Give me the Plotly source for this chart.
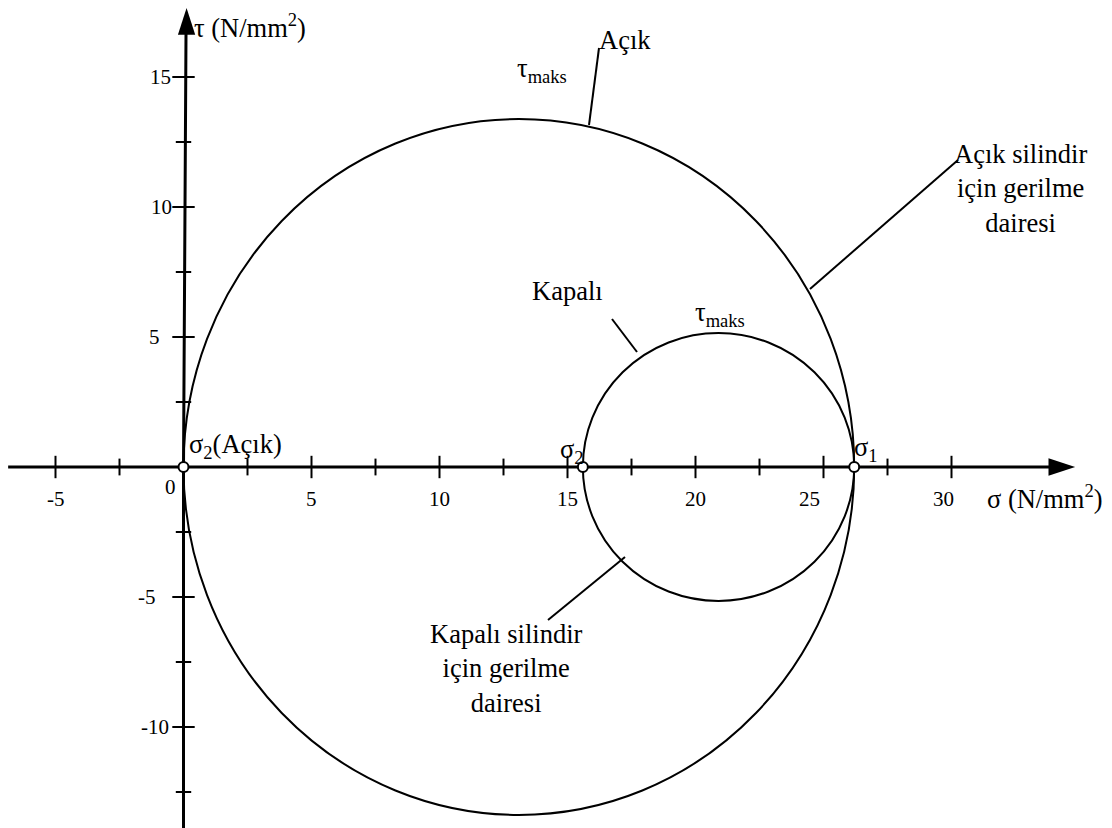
import plotly.graph_objects as go

# ---------------- data ----------------
sigma_open = [0.0, 26.2]        # σ2 (Açık), σ1  [N/mm²]
sigma_closed = [15.6, 26.2]     # σ2 (Kapalı), σ1 [N/mm²]
tau_maks_open = 13.38
tau_maks_closed = 5.15
x_major = [-5, 5, 10, 15, 20, 25, 30]
x_minor = [-2.5, 2.5, 7.5, 12.5, 17.5, 22.5, 27.5]
x_labels = ["-5", "5", "10", "15", "20", "25", "30"]
y_major = [15, 10, 5, -5, -10]
y_minor = [12.5, 7.5, 2.5, -2.5, -7.5, -12.5]
y_labels = ["15", "10", "5", "-5", "-10"]
x_axis_span = [-6.85, 34.83]
y_axis_span = [-14.2, 17.65]

# ---------------- style ----------------
FONT = "Liberation Serif"
W, H = 1112, 828
X0_PX, Y0_PX = 183.5, 467.0     # pixel position of origin
SX, SY = 25.6, 26.0             # px per unit
x_label_xshift = {"25": -14, "30": -8}
y_label_xshift = {"15": -11, "10": -10, "5": -22, "-5": -26, "-10": -13}

fig = go.Figure()

# axes lines
fig.add_trace(go.Scatter(x=[x_axis_span[0], x_axis_span[1] - 0.6], y=[0, 0], mode="lines",
                         line=dict(color="black", width=3), hoverinfo="skip"))
fig.add_trace(go.Scatter(x=[0, 0, 0.1], y=[y_axis_span[0], 0, y_axis_span[1] - 0.6], mode="lines",
                         line=dict(color="black", width=3), hoverinfo="skip"))
# arrow heads
fig.add_trace(go.Scatter(x=[x_axis_span[1]], y=[0], mode="markers",
                         marker=dict(symbol="arrow", angle=90, size=28, color="black",
                                     line=dict(width=0)), hoverinfo="skip"))
fig.add_trace(go.Scatter(x=[0.12], y=[y_axis_span[1]], mode="markers",
                         marker=dict(symbol="arrow", angle=0, size=28, color="black",
                                     line=dict(width=0)), hoverinfo="skip"))

# tick marks
fig.add_trace(go.Scatter(x=x_major, y=[0] * len(x_major), mode="markers",
                         marker=dict(symbol="line-ns", size=16, line=dict(width=2, color="black")),
                         hoverinfo="skip"))
fig.add_trace(go.Scatter(x=x_minor, y=[0] * len(x_minor), mode="markers",
                         marker=dict(symbol="line-ns", size=12, line=dict(width=2, color="black")),
                         hoverinfo="skip"))
fig.add_trace(go.Scatter(x=[0] * len(y_major), y=y_major, mode="markers",
                         marker=dict(symbol="line-ew", size=16, line=dict(width=2, color="black")),
                         hoverinfo="skip"))
fig.add_trace(go.Scatter(x=[0] * len(y_minor), y=y_minor, mode="markers",
                         marker=dict(symbol="line-ew", size=11, line=dict(width=2, color="black")),
                         hoverinfo="skip"))

# Mohr circles
fig.add_shape(type="circle", xref="x", yref="y", x0=sigma_open[0], x1=sigma_open[1],
              y0=-tau_maks_open, y1=tau_maks_open, line=dict(color="black", width=2), layer="below")
fig.add_shape(type="circle", xref="x", yref="y", x0=sigma_closed[0], x1=sigma_closed[1],
              y0=-tau_maks_closed, y1=tau_maks_closed, line=dict(color="black", width=2), layer="below")

# principal stress points
pts = sorted(set(sigma_open + sigma_closed))
fig.add_trace(go.Scatter(x=pts, y=[0] * len(pts), mode="markers",
                         marker=dict(symbol="circle", size=10, color="white",
                                     line=dict(width=2, color="black")), hoverinfo="skip"))


def px2x(p):
    return (p - X0_PX) / SX


def px2y(p):
    return (Y0_PX - p) / SY


tick_font = dict(size=21, family=FONT, color="black")
big = dict(size=26.5, family=FONT, color="black")

ann = []
# tick labels
for v, t in zip(x_major, x_labels):
    ann.append(dict(x=v, y=0, text=t, showarrow=False, yshift=-32,
                    xshift=x_label_xshift.get(t, 0), font=tick_font))
ann.append(dict(x=0, y=0, text="0", showarrow=False, xanchor="right", xshift=-6, yshift=-20,
                font=tick_font))
for v, t in zip(y_major, y_labels):
    ann.append(dict(x=0, y=v, text=t, showarrow=False, xanchor="right",
                    xshift=y_label_xshift.get(t, -11), font=tick_font))

# axis titles
ann.append(dict(x=px2x(192), y=px2y(26), text="τ (N/mm<sup>2</sup>)", showarrow=False,
                xanchor="left", font=big))
ann.append(dict(x=px2x(985), y=px2y(497), text="σ (N/mm<sup>2</sup>)", showarrow=False,
                xanchor="left", font=big))
# point labels
ann.append(dict(x=px2x(187), y=px2y(446), text="σ<sub>2</sub>(Açık)", showarrow=False,
                xanchor="left", font=big))
ann.append(dict(x=px2x(572), y=px2y(451), text="σ<sub>2</sub>", showarrow=False, font=big))
ann.append(dict(x=px2x(866), y=px2y(449), text="σ<sub>1</sub>", showarrow=False, font=big))
ann.append(dict(x=px2x(542), y=px2y(70), text="τ<sub>maks</sub>", showarrow=False, font=big))
ann.append(dict(x=px2x(720), y=px2y(314), text="τ<sub>maks</sub>", showarrow=False, font=big))
# circle labels
ann.append(dict(x=px2x(597), y=px2y(40), text="Açık", showarrow=False, xanchor="left", font=big))
ann.append(dict(x=px2x(567), y=px2y(291), text="Kapalı", showarrow=False, font=big))
ann.append(dict(x=px2x(1020), y=px2y(188), text="Açık silindir<br>için gerilme<br>dairesi",
                showarrow=False, font=big))
ann.append(dict(x=px2x(506), y=px2y(668), text="Kapalı silindir<br>için gerilme<br>dairesi",
                showarrow=False, font=big))

# leader lines (pixel anchor points of the reference)
leaders = [((599, 48), (589, 125)),
           ((612, 319), (637, 352)),
           ((548, 620), (625, 557)),
           ((958, 160), (810, 289))]
for (a, b) in leaders:
    fig.add_shape(type="line", xref="x", yref="y", x0=px2x(a[0]), y0=px2y(a[1]),
                  x1=px2x(b[0]), y1=px2y(b[1]), line=dict(color="black", width=2))

fig.update_layout(
    width=W, height=H, margin=dict(l=0, r=0, t=0, b=0),
    paper_bgcolor="white", plot_bgcolor="white", showlegend=False,
    xaxis=dict(range=[-X0_PX / SX, (W - X0_PX) / SX], visible=False, fixedrange=True),
    yaxis=dict(range=[-(H - Y0_PX) / SY, Y0_PX / SY], visible=False, fixedrange=True),
    annotations=ann,
)

fig.write_html("out.html", config={"displayModeBar": False},
               post_script="document.body.style.margin='0';document.body.style.overflow='hidden';")
